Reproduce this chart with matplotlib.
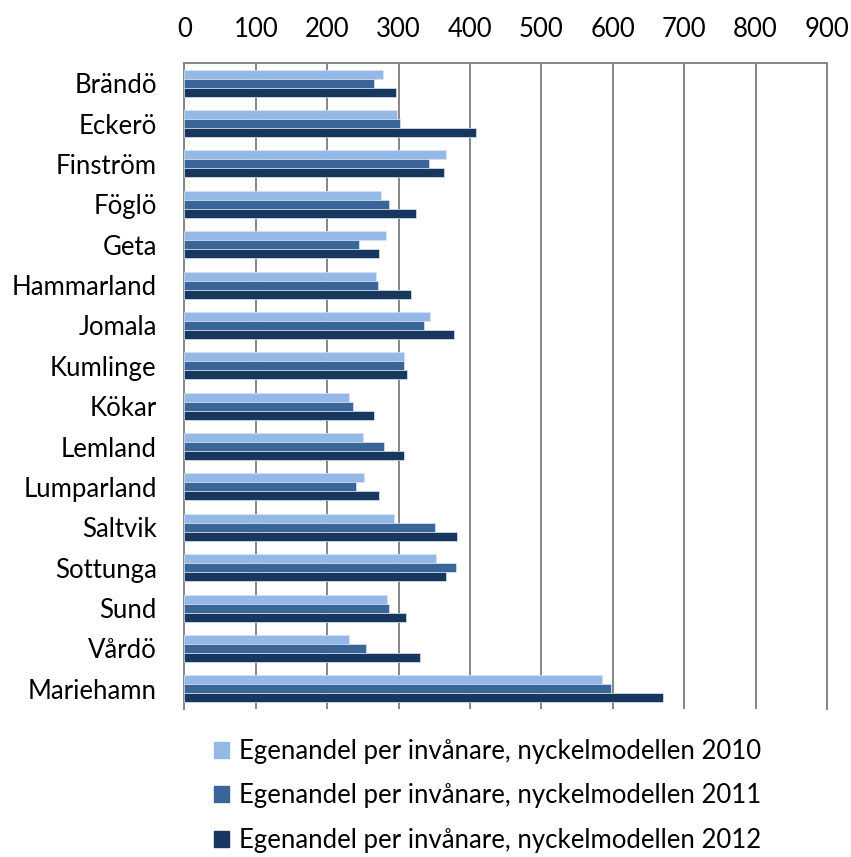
import numpy as np
import matplotlib
matplotlib.use("Agg")
import matplotlib.pyplot as plt
from matplotlib.patches import Patch

plt.rcParams["font.family"] = ["Lato", "DejaVu Sans"]

kommuner = ["Brändö", "Eckerö", "Finström", "Föglö", "Geta", "Hammarland", "Jomala",
            "Kumlinge", "Kökar", "Lemland", "Lumparland", "Saltvik", "Sottunga", "Sund",
            "Vårdö", "Mariehamn"]
v2010 = [278, 298, 366, 275, 283, 268, 344, 307, 231, 250, 252, 293, 352, 284, 231, 585]
v2011 = [265, 302, 343, 287, 245, 271, 335, 308, 236, 279, 240, 351, 381, 286, 255, 598]
v2012 = [297, 408, 364, 324, 272, 317, 378, 312, 265, 307, 272, 382, 366, 311, 330, 671]
xticks = [0, 100, 200, 300, 400, 500, 600, 700, 800, 900]
labels = ["Egenandel per invånare, nyckelmodellen 2010",
          "Egenandel per invånare, nyckelmodellen 2011",
          "Egenandel per invånare, nyckelmodellen 2012"]
colors = ["#95B9E6", "#3A6598", "#17375E"]

fig = plt.figure(figsize=(8.51, 8.57), dpi=100)
ax = fig.add_axes([0.2167, 0.1727, 0.7550, 0.7538])

y = np.arange(len(kommuner))
h = 0.223
for i, vals in enumerate([v2010, v2011, v2012]):
    ax.barh(y + (i - 1) * h, vals, height=h, color=colors[i],
            edgecolor="#dbe5f1", linewidth=0.5, zorder=3)

ax.set_xlim(0, 900)
ax.set_ylim(15.5, -0.5)
ax.set_xticks(xticks)
ax.set_yticks(y)
ax.set_yticklabels(kommuner)
ax.xaxis.tick_top()
ax.tick_params(axis="x", length=0, pad=15, labelsize=18.5)
ax.tick_params(axis="y", length=0, pad=20, labelsize=18.5)
ax.grid(axis="x", color="#868686", linewidth=1.4, zorder=0)
for s in ["left", "top", "right"]:
    ax.spines[s].set_color("#868686")
    ax.spines[s].set_linewidth(1.4)
ax.spines["bottom"].set_visible(False)

handles = [Patch(color=c) for c in colors]
fig.legend(handles, labels, loc="upper left", bbox_to_anchor=(0.236, 0.153),
           frameon=False, fontsize=18.5, handlelength=0.6, handleheight=0.6,
           handletextpad=0.4, labelspacing=0.76, borderpad=0)

fig.savefig("out.png", dpi=100)
